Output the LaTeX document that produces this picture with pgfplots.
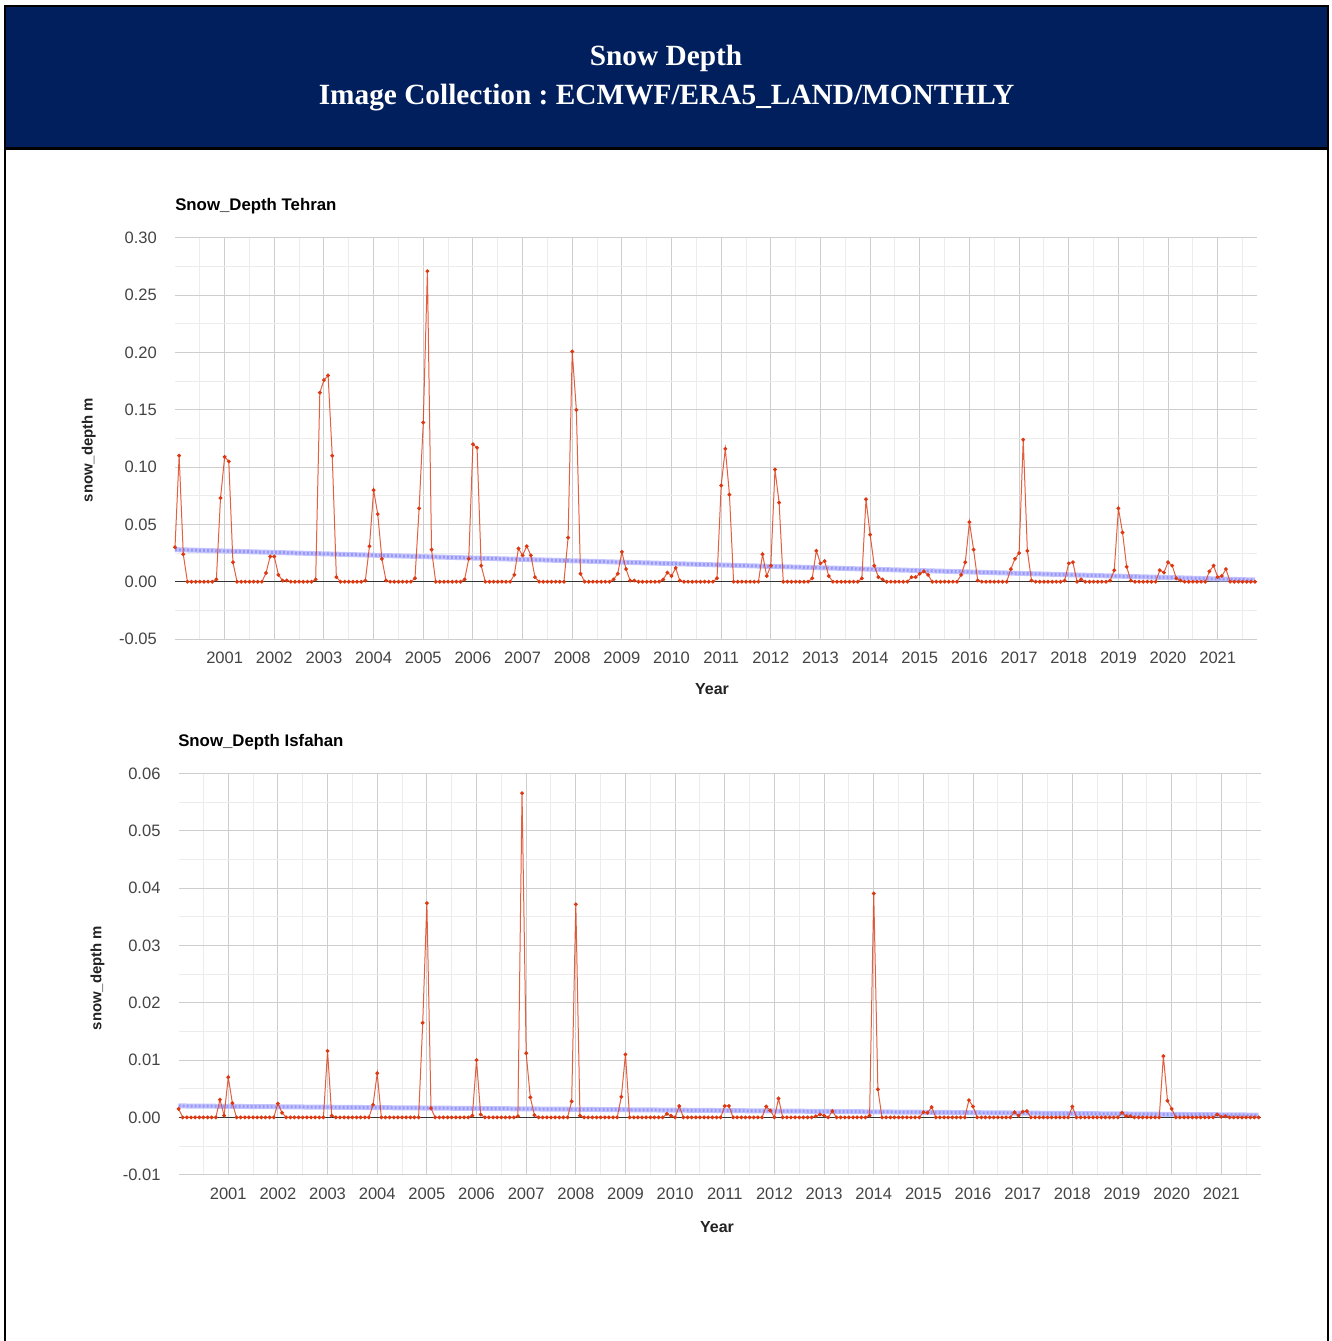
\documentclass[border=0pt]{standalone}
\usepackage{fontspec}
\setmainfont{Liberation Sans}
\newfontfamily\hdrfont{Liberation Serif}
\usepackage{pgfplots}
\pgfplotsset{compat=1.18}
\frenchspacing
\definecolor{hdrblue}{RGB}{0,31,92}
\definecolor{gred}{RGB}{220,57,18}
\definecolor{tickgray}{RGB}{68,68,68}
\definecolor{majgrid}{RGB}{206,206,206}
\definecolor{mingrid}{RGB}{236,236,236}
\definecolor{trendA}{RGB}{185,185,255}
\definecolor{trendB}{RGB}{135,135,248}
\pgfplotsset{gchart/.style={
  scale only axis, width=811.5pt, height=300.75pt,
  xmin=0, xmax=261.5,
  axis line style={draw=none},
  major tick length=0pt, minor tick length=0pt,
  scaled y ticks=false, scaled x ticks=false,
  xtick={12,24,...,252},
  xticklabels={2001,2002,2003,2004,2005,2006,2007,2008,2009,2010,2011,2012,2013,2014,2015,2016,2017,2018,2019,2020,2021},
  minor xtick={6,18,...,258},
  grid=both,
  major grid style={draw=majgrid, line width=0.75pt},
  minor grid style={draw=mingrid, line width=0.75pt},
  ticklabel style={font=\fontsize{12.4}{14}\selectfont, text=tickgray},
  xticklabel style={anchor=north, inner sep=0pt, yshift=-9.4pt},
  yticklabel style={anchor=east, inner sep=0pt, xshift=-13.4pt},
  extra y ticks={0}, extra y tick labels={},
  extra y tick style={major grid style={draw={rgb,255:red,51;green,51;blue,51}, line width=0.8pt}},
  clip=false,
}}
\begin{document}
\begin{tikzpicture}
\useasboundingbox (0,0) rectangle (998.25pt,-1005.75pt);
\fill[white] (0,0) rectangle (998.25pt,-1005.75pt);
% header
\fill[hdrblue] (3.75pt,-4.5pt) rectangle (996pt,-111.5pt);
\draw[black, line width=1.5pt] (3pt,-4.5pt) -- (996.75pt,-4.5pt);
\draw[black, line width=2pt] (3pt,-111.5pt) -- (996.75pt,-111.5pt);
\draw[black, line width=1.5pt] (3.75pt,-3.75pt) -- (3.75pt,-1010pt);
\draw[black, line width=1.5pt] (996pt,-3.75pt) -- (996pt,-1010pt);
\node[anchor=base, inner sep=0pt, text=white, font=\hdrfont\bfseries\fontsize{22}{26}\selectfont] at (499.5pt,-49.5pt) {Snow Depth};
\node[anchor=base, inner sep=0pt, text=white, font=\hdrfont\bfseries\fontsize{22}{26}\selectfont] at (499.9pt,-78.75pt) {Image Collection : ECMWF/ERA5\_LAND/MONTHLY};

% ---------- Tehran ----------
\begin{axis}[gchart, at={(131.25pt,-479.25pt)}, anchor=south west,
  ymin=-0.05, ymax=0.30,
  ytick={-0.05,0,0.05,0.10,0.15,0.20,0.25,0.30},
  yticklabels={-0.05,0.00,0.05,0.10,0.15,0.20,0.25,0.30},
  minor ytick={-0.025,0.025,0.075,0.125,0.175,0.225,0.275}]
\addplot[no marks, line width=3.75pt, draw=trendA, draw opacity=0.85] coordinates {(0,0.028)(261,0.0015)};
\addplot[no marks, line width=2.2pt, draw=trendB, draw opacity=0.7, dash pattern=on 1.5pt off 1.5pt] coordinates {(0,0.028)(261,0.0015)};
\addplot[draw=gred, draw opacity=0.8, line width=0.75pt, mark=*, mark size=1.05pt, mark options={fill=gred, draw=gred, draw opacity=1, solid}] coordinates {
(0,0.030)(1,0.110)(2,0.024)(3,0)(4,0)(5,0)(6,0)(7,0)(8,0)(9,0)(10,0.002)(11,0.073)
(12,0.109)(13,0.105)(14,0.017)(15,0)(16,0)(17,0)(18,0)(19,0)(20,0)(21,0)(22,0.0076)(23,0.022)
(24,0.022)(25,0.006)(26,0.001)(27,0.001)(28,0)(29,0)(30,0)(31,0)(32,0)(33,0)(34,0.002)(35,0.165)
(36,0.176)(37,0.180)(38,0.110)(39,0.004)(40,0)(41,0)(42,0)(43,0)(44,0)(45,0)(46,0.001)(47,0.031)
(48,0.080)(49,0.059)(50,0.020)(51,0.001)(52,0)(53,0)(54,0)(55,0)(56,0)(57,0)(58,0.003)(59,0.064)
(60,0.139)(61,0.271)(62,0.028)(63,0)(64,0)(65,0)(66,0)(67,0)(68,0)(69,0)(70,0.002)(71,0.020)
(72,0.120)(73,0.117)(74,0.014)(75,0)(76,0)(77,0)(78,0)(79,0)(80,0)(81,0)(82,0.006)(83,0.029)
(84,0.023)(85,0.031)(86,0.023)(87,0.004)(88,0)(89,0)(90,0)(91,0)(92,0)(93,0)(94,0)(95,0.0385)
(96,0.201)(97,0.150)(98,0.007)(99,0)(100,0)(101,0)(102,0)(103,0)(104,0)(105,0)(106,0.002)(107,0.007)
(108,0.026)(109,0.011)(110,0.001)(111,0.001)(112,0)(113,0)(114,0)(115,0)(116,0)(117,0)(118,0.002)(119,0.008)
(120,0.005)(121,0.012)(122,0.001)(123,0)(124,0)(125,0)(126,0)(127,0)(128,0)(129,0)(130,0)(131,0.003)
(132,0.084)(133,0.116)(134,0.076)(135,0)(136,0)(137,0)(138,0)(139,0)(140,0)(141,0)(142,0.024)(143,0.005)
(144,0.014)(145,0.098)(146,0.069)(147,0)(148,0)(149,0)(150,0)(151,0)(152,0)(153,0)(154,0.003)(155,0.027)
(156,0.016)(157,0.018)(158,0.005)(159,0)(160,0)(161,0)(162,0)(163,0)(164,0)(165,0)(166,0.003)(167,0.072)
(168,0.041)(169,0.014)(170,0.004)(171,0.002)(172,0)(173,0)(174,0)(175,0)(176,0)(177,0)(178,0.004)(179,0.004)
(180,0.007)(181,0.009)(182,0.006)(183,0)(184,0)(185,0)(186,0)(187,0)(188,0)(189,0)(190,0.006)(191,0.017)
(192,0.052)(193,0.028)(194,0.001)(195,0)(196,0)(197,0)(198,0)(199,0)(200,0)(201,0)(202,0.011)(203,0.020)
(204,0.025)(205,0.124)(206,0.027)(207,0.001)(208,0)(209,0)(210,0)(211,0)(212,0)(213,0)(214,0)(215,0.001)
(216,0.016)(217,0.017)(218,0)(219,0.002)(220,0)(221,0)(222,0)(223,0)(224,0)(225,0)(226,0.001)(227,0.010)
(228,0.064)(229,0.043)(230,0.013)(231,0.001)(232,0)(233,0)(234,0)(235,0)(236,0)(237,0)(238,0.010)(239,0.008)
(240,0.017)(241,0.014)(242,0.003)(243,0.001)(244,0)(245,0)(246,0)(247,0)(248,0)(249,0)(250,0.009)(251,0.014)
(252,0.004)(253,0.005)(254,0.011)(255,0)(256,0)(257,0)(258,0)(259,0)(260,0)(261,0)
};
\end{axis}
\node[anchor=base west, inner sep=0pt, font=\bfseries\fontsize{12.6}{15}\selectfont] at (131.25pt,-158pt) {Snow\_Depth Tehran};
\node[anchor=base, inner sep=0pt, font=\bfseries\fontsize{12}{14}\selectfont, text={rgb,255:red,34;green,34;blue,34}] at (534pt,-521pt) {Year};
\node[anchor=base, rotate=90, inner sep=0pt, font=\bfseries\fontsize{11.2}{13}\selectfont, text={rgb,255:red,34;green,34;blue,34}] at (69.4pt,-337.5pt) {snow\_depth m};

% ---------- Isfahan ----------
\begin{axis}[gchart, at={(133.95pt,-881pt)}, anchor=south west,
  ymin=-0.01, ymax=0.06,
  ytick={-0.01,0,0.01,0.02,0.03,0.04,0.05,0.06},
  yticklabels={-0.01,0.00,0.01,0.02,0.03,0.04,0.05,0.06},
  minor ytick={-0.005,0.005,0.015,0.025,0.035,0.045,0.055}]
\addplot[no marks, line width=3.75pt, draw=trendA, draw opacity=0.85] coordinates {(0,0.0020)(261,0.0004)};
\addplot[no marks, line width=2.2pt, draw=trendB, draw opacity=0.7, dash pattern=on 1.5pt off 1.5pt] coordinates {(0,0.0020)(261,0.0004)};
\addplot[draw=gred, draw opacity=0.8, line width=0.75pt, mark=*, mark size=1.05pt, mark options={fill=gred, draw=gred, draw opacity=1, solid}] coordinates {
(0,0.0015)(1,0)(2,0)(3,0)(4,0)(5,0)(6,0)(7,0)(8,0)(9,0)(10,0.0031)(11,0.0003)
(12,0.0070)(13,0.0025)(14,0)(15,0)(16,0)(17,0)(18,0)(19,0)(20,0)(21,0)(22,0)(23,0)
(24,0.0024)(25,0.0008)(26,0)(27,0)(28,0)(29,0)(30,0)(31,0)(32,0)(33,0)(34,0)(35,0)
(36,0.0116)(37,0.0003)(38,0)(39,0)(40,0)(41,0)(42,0)(43,0)(44,0)(45,0)(46,0)(47,0.0022)
(48,0.0077)(49,0)(50,0)(51,0)(52,0)(53,0)(54,0)(55,0)(56,0)(57,0)(58,0)(59,0.0165)
(60,0.0374)(61,0.0016)(62,0)(63,0)(64,0)(65,0)(66,0)(67,0)(68,0)(69,0)(70,0)(71,0.0003)
(72,0.0100)(73,0.0005)(74,0)(75,0)(76,0)(77,0)(78,0)(79,0)(80,0)(81,0)(82,0.0002)(83,0.0566)
(84,0.0112)(85,0.0035)(86,0.0004)(87,0)(88,0)(89,0)(90,0)(91,0)(92,0)(93,0)(94,0)(95,0.0028)
(96,0.0372)(97,0.0003)(98,0)(99,0)(100,0)(101,0)(102,0)(103,0)(104,0)(105,0)(106,0)(107,0.0036)
(108,0.0110)(109,0)(110,0)(111,0)(112,0)(113,0)(114,0)(115,0)(116,0)(117,0)(118,0.0006)(119,0.0003)
(120,0)(121,0.0020)(122,0)(123,0)(124,0)(125,0)(126,0)(127,0)(128,0)(129,0)(130,0)(131,0)
(132,0.0020)(133,0.0020)(134,0)(135,0)(136,0)(137,0)(138,0)(139,0)(140,0)(141,0)(142,0.0019)(143,0.0012)
(144,0)(145,0.0033)(146,0)(147,0)(148,0)(149,0)(150,0)(151,0)(152,0)(153,0)(154,0.0002)(155,0.0005)
(156,0.0003)(157,0)(158,0.0011)(159,0)(160,0)(161,0)(162,0)(163,0)(164,0)(165,0)(166,0)(167,0.0003)
(168,0.0391)(169,0.0049)(170,0)(171,0)(172,0)(173,0)(174,0)(175,0)(176,0)(177,0)(178,0)(179,0)
(180,0.0009)(181,0.0008)(182,0.0018)(183,0)(184,0)(185,0)(186,0)(187,0)(188,0)(189,0)(190,0)(191,0.0030)
(192,0.0019)(193,0)(194,0)(195,0)(196,0)(197,0)(198,0)(199,0)(200,0)(201,0)(202,0.0009)(203,0.0003)
(204,0.0010)(205,0.0011)(206,0)(207,0)(208,0)(209,0)(210,0)(211,0)(212,0)(213,0)(214,0)(215,0)
(216,0.0019)(217,0)(218,0)(219,0)(220,0)(221,0)(222,0)(223,0)(224,0)(225,0)(226,0)(227,0)
(228,0.0008)(229,0.0002)(230,0.0002)(231,0)(232,0)(233,0)(234,0)(235,0)(236,0)(237,0)(238,0.0107)(239,0.0029)
(240,0.0015)(241,0)(242,0)(243,0)(244,0)(245,0)(246,0)(247,0)(248,0)(249,0)(250,0)(251,0.0005)
(252,0.0001)(253,0.0002)(254,0)(255,0)(256,0)(257,0)(258,0)(259,0)(260,0)(261,0)
};
\end{axis}
\node[anchor=base west, inner sep=0pt, font=\bfseries\fontsize{12.6}{15}\selectfont] at (133.5pt,-559.9pt) {Snow\_Depth Isfahan};
\node[anchor=base, inner sep=0pt, font=\bfseries\fontsize{12}{14}\selectfont, text={rgb,255:red,34;green,34;blue,34}] at (537.75pt,-924.5pt) {Year};
\node[anchor=base, rotate=90, inner sep=0pt, font=\bfseries\fontsize{11.2}{13}\selectfont, text={rgb,255:red,34;green,34;blue,34}] at (76.1pt,-733.5pt) {snow\_depth m};
\end{tikzpicture}
\end{document}
